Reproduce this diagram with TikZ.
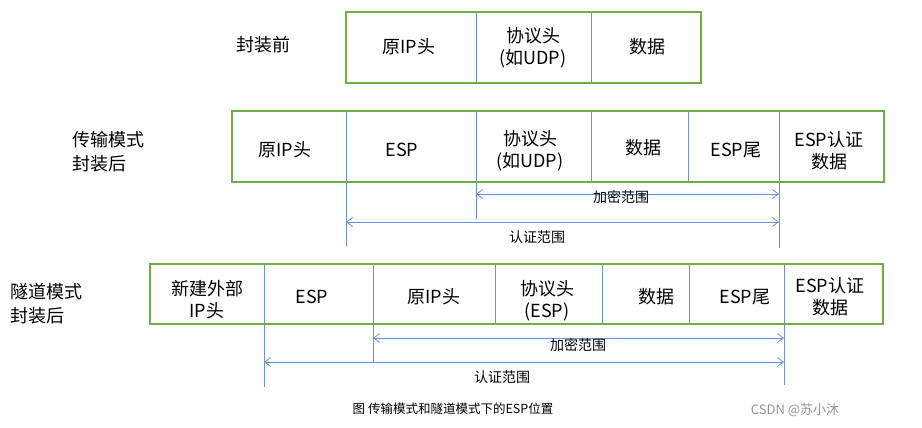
\documentclass[tikz,border=0pt]{standalone}
\usepackage{fontspec}
\setmainfont{Noto Sans CJK SC}
\usetikzlibrary{arrows.meta}
\definecolor{boxgreen}{RGB}{112,173,71}
\definecolor{lineblue}{RGB}{105,145,212}
\definecolor{wmgray}{RGB}{150,150,150}
\begin{document}
\begin{tikzpicture}[x=1pt,y=-1pt,
  cellbox/.style={font=\fontsize{18}{22}\selectfont, align=center, inner sep=0pt},
  sidelabel/.style={font=\fontsize{18}{24}\selectfont, align=left, inner sep=0pt},
  greenframe/.style={draw=boxgreen, line width=1.5pt},
  divline/.style={draw=lineblue, line width=0.8pt},
  spanarrow/.style={draw=lineblue, line width=0.8pt, {Straight Barb[length=6pt,width=9pt]}-{Straight Barb[length=6pt,width=9pt]}},
  spanlabel/.style={font=\fontsize{14}{16}\selectfont, inner sep=0pt},
  captext/.style={font=\fontsize{12.5}{14}\selectfont, inner sep=0pt},
  wmtext/.style={font=\fontsize{13}{15}\selectfont, text=wmgray, inner sep=0pt}]
\useasboundingbox (0,0) rectangle (922,428);

% ---------- Row 1: before encapsulation ----------
\node[sidelabel, anchor=center] (l1) at (263,45) {封装前};
\draw[divline] (476,12) -- (476,83);
\draw[divline] (591,12) -- (591,83);
\draw[greenframe] (346,12) rectangle (701,83);
\node[cellbox] (a1) at (409,47) {原IP头};
\node[cellbox] (a2) at (533,48) {协议头\\(如UDP)};
\node[cellbox] (a3) at (647,47) {数据};

% ---------- Row 2: transport mode ----------
\node[sidelabel, anchor=west] (l2) at (72,152) {传输模式\\封装后};
\coordinate (t1) at (346,111);
\coordinate (t1b) at (346,246);
\coordinate (t2) at (476,111);
\coordinate (t2b) at (476,219);
\coordinate (t3) at (779,111);
\coordinate (t3b) at (779,248);
\draw[divline] (t1) -- (t1b);
\draw[divline] (t2) -- (t2b);
\draw[divline] (591,111) -- (591,182);
\draw[divline] (688,111) -- (688,182);
\draw[divline] (t3) -- (t3b);
\draw[greenframe] (232,111) rectangle (884,182);
\node[cellbox] (b1) at (285,150) {原IP头};
\node[cellbox] (b2) at (402,150) {ESP};
\node[cellbox] (b3) at (530,151) {协议头\\(如UDP)};
\node[cellbox] (b4) at (643,148) {数据};
\node[cellbox] (b5) at (736,150) {ESP尾};
\node[cellbox] (b6) at (829,151) {ESP认证\\数据};
\coordinate (e1s) at (476,194);
\coordinate (e1e) at (779,194);
\coordinate (v1s) at (346,222);
\coordinate (v1e) at (779,222);
\draw[spanarrow] (e1s) -- (e1e);
\draw[spanarrow] (v1s) -- (v1e);
\node[spanlabel] (r1) at (621,197) {加密范围};
\node[spanlabel] (r2) at (537,237) {认证范围};

% ---------- Row 3: tunnel mode ----------
\node[sidelabel, anchor=west] (l3) at (10,304) {隧道模式\\封装后};
\coordinate (u1) at (264,264);
\coordinate (u1b) at (264,387);
\coordinate (u2) at (373,264);
\coordinate (u2b) at (373,362);
\coordinate (u3) at (784,264);
\coordinate (u3b) at (784,385);
\draw[divline] (u1) -- (u1b);
\draw[divline] (u2) -- (u2b);
\draw[divline] (495,264) -- (495,324);
\draw[divline] (602,264) -- (602,324);
\draw[divline] (689,264) -- (689,324);
\draw[divline] (u3) -- (u3b);
\draw[greenframe] (150,264) rectangle (883,324);
\node[cellbox] (c1) at (207,300) {新建外部\\IP头};
\node[cellbox] (c2) at (312,297) {ESP};
\node[cellbox] (c3) at (434,297) {原IP头};
\node[cellbox] (c4) at (547,301) {协议头\\(ESP)};
\node[cellbox] (c5) at (656,297) {数据};
\node[cellbox] (c6) at (745,297) {ESP尾};
\node[cellbox] (c7) at (830,297) {ESP认证\\数据};
\coordinate (e2s) at (373,338);
\coordinate (e2e) at (784,338);
\coordinate (v2s) at (264,362);
\coordinate (v2e) at (784,362);
\draw[spanarrow] (e2s) -- (e2e);
\draw[spanarrow] (v2s) -- (v2e);
\node[spanlabel] (r3) at (578,345) {加密范围};
\node[spanlabel] (r4) at (502,377) {认证范围};

% ---------- caption ----------
\node[captext] (cap) at (453,409) {图 传输模式和隧道模式下的ESP位置};
\node[wmtext] (wm) at (795,410) {CSDN @苏小沐};
\end{tikzpicture}
\end{document}
